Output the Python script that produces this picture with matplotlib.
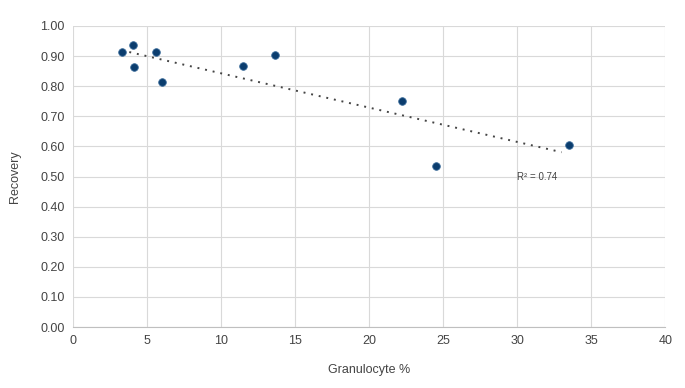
import numpy as np
import matplotlib
matplotlib.use("Agg")
import matplotlib.pyplot as plt

plt.rcParams['font.family'] = ['Liberation Sans', 'DejaVu Sans']

granulocyte = [3.3, 4.05, 4.1, 5.6, 6.0, 11.5, 13.65, 22.2, 24.5, 33.5]
recovery = [0.914, 0.937, 0.864, 0.914, 0.814, 0.867, 0.904, 0.751, 0.535, 0.605]
r2_label = "R² = 0.74"

fig = plt.figure(figsize=(6.85, 3.88), dpi=100)
ax = fig.add_axes([0.1066, 0.157, 0.8645, 0.776])

# linear trendline
x = np.array(granulocyte)
y = np.array(recovery)
slope, intercept = np.polyfit(x, y, 1)
xt = np.linspace(x.min() + 0.5, x.max() - 0.5, 50)
ax.plot(xt, slope * xt + intercept, linestyle=(0, (1, 3)), color="#444444",
        linewidth=1.4, zorder=2)

ax.scatter(granulocyte, recovery, s=30, color="#0b3d6e", edgecolors="#3a6b9a",
           linewidths=0.6, zorder=3)

ax.text(30, 0.50, r2_label, fontsize=7, color="#444444", va="center", ha="left")

ax.set_xlim(0, 40)
ax.set_ylim(0, 1.0)
ax.set_xticks(np.arange(0, 41, 5))
ax.set_yticks(np.arange(0, 1.01, 0.1))
ax.set_yticklabels([f"{v:.2f}" for v in np.arange(0, 1.01, 0.1)])
ax.grid(True, color="#d9d9d9", linewidth=0.8)
ax.set_axisbelow(True)
for s in ["top", "right", "left"]:
    ax.spines[s].set_visible(False)
ax.spines["bottom"].set_color("#bfbfbf")
ax.tick_params(length=0, labelsize=9, colors="#444444", pad=6)
ax.set_xlabel("Granulocyte %", fontsize=9, color="#444444", labelpad=12)
ax.set_ylabel("Recovery", fontsize=9, color="#444444", labelpad=14)

fig.savefig("out.png", dpi=100)
